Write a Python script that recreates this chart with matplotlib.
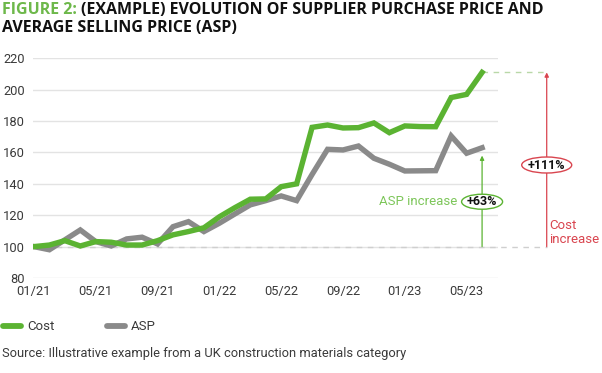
import matplotlib
matplotlib.use("Agg")
import matplotlib.pyplot as plt
from matplotlib.patches import Ellipse
from matplotlib.lines import Line2D

plt.rcParams['font.family'] = ['Roboto', 'DejaVu Sans']

months = list(range(30))
tick_pos = [0, 4, 8, 12, 16, 20, 24, 28]
tick_labels = ["01/21", "05/21", "09/21", "01/22", "05/22", "09/22", "01/23", "05/23"]
cost = [100, 101, 103.8, 100.4, 103.2, 102.8, 101, 101, 103.8, 107.5,
        109.6, 112, 119, 124.8, 130.2, 130.4, 138.2, 140, 176, 177.5,
        175.6, 175.8, 178.8, 172.6, 176.9, 176.5, 176.4, 195, 197, 211]
asp = [100, 98, 104.3, 110.6, 103.2, 100.4, 104.9, 106, 101.7, 112.7,
       115.9, 109.6, 114.9, 120.8, 126.6, 129.3, 132.3, 129.3, 146, 162,
       161.6, 164.1, 156.3, 152.5, 148.2, 148.3, 148.4, 170.5, 159.5, 163]
yticks = [80, 100, 120, 140, 160, 180, 200, 220]

GREEN = "#5BB332"
GRAY = "#8A8A8A"
RED = "#D9454F"
TXT = "#3a3a3a"

W, H = 602, 373
fig = plt.figure(figsize=(W / 100, H / 100), dpi=100)
ax = fig.add_axes([33 / W, 1 - 278 / H, (498 - 33) / W, (278 - 58.3) / H])

ax.set_ylim(80, 220)
ax.set_xlim(-0.06, 30.03)
ax.set_yticks(yticks)
ax.set_xticks(tick_pos)
ax.set_xticklabels(tick_labels)
ax.grid(axis='y', color="#e3e3e3", lw=1)
ax.set_axisbelow(True)
for s in ax.spines.values():
    s.set_visible(False)
ax.tick_params(length=0, labelsize=9.3, colors=TXT)
ax.tick_params(axis='y', pad=6)
ax.tick_params(axis='x', pad=5)

# dashed reference lines
x_end = 30.03 + (546.7 - 498) / 15.45
ax.plot([months[0], x_end], [100, 100], ls=(0, (4, 4)), color="#cfcfcf", lw=1, clip_on=False, zorder=1)
ax.plot([months[-1], x_end], [cost[-1], cost[-1]], ls=(0, (4, 4)), color="#b9d8a8", lw=1, clip_on=False, zorder=1)

ax.plot(months, asp, color=GRAY, lw=3.9, solid_joinstyle='miter', zorder=3)
ax.plot(months, cost, color=GREEN, lw=3.9, solid_joinstyle='miter', zorder=4)

# ASP increase arrow
ax.annotate("", xy=(months[-1], 158), xytext=(months[-1], 100),
            arrowprops=dict(arrowstyle="-|>", color=GREEN, lw=0.9, mutation_scale=6,
                            shrinkA=0, shrinkB=0), zorder=5)
ax.add_patch(Ellipse((months[-1], 128.6), 41 / 15.45, 15 / 1.57, facecolor="white",
                     edgecolor=GREEN, lw=1, zorder=6, clip_on=False))
ax.text(months[-1], 128.6, "+63%", ha='center', va='center', fontsize=9, fontweight='bold',
        color="#111111", zorder=7)
ax.text(months[-1] - 25 / 15.45, 128.6, "ASP increase", ha='right', va='center', fontsize=9.5,
        color="#7DC65A", zorder=7)

# Cost increase arrow
ax.annotate("", xy=(x_end, cost[-1]), xytext=(x_end, 100),
            arrowprops=dict(arrowstyle="-|>", color=RED, lw=0.9, mutation_scale=6,
                            shrinkA=0, shrinkB=0), zorder=5, annotation_clip=False)
ax.add_patch(Ellipse((x_end, 152), 50 / 15.45, 16 / 1.57, facecolor="white",
                     edgecolor=RED, lw=1, zorder=6, clip_on=False))
ax.text(x_end, 152, "+111%", ha='center', va='center', fontsize=9, fontweight='bold',
        color="#111111", zorder=7, clip_on=False)
ax.text(x_end + 2.5 / 15.45, 100.5, "Cost\nincrease", ha='left', va='bottom', fontsize=9.5,
        color=RED, linespacing=1.05, zorder=7, clip_on=False)

# legend
handles = [Line2D([], [], color=GREEN, lw=4.2, solid_capstyle='round'),
           Line2D([], [], color=GRAY, lw=4.2, solid_capstyle='round')]
fig.legend(handles, ["Cost", "ASP"], loc='center left', bbox_to_anchor=(-0.014, 1 - 327 / H),
           ncol=2, frameon=False, handlelength=1.35, handletextpad=0.45, columnspacing=4.0,
           fontsize=9.5, labelcolor=TXT)

fig.text(2 / W, 1 - 354 / H, "Source: Illustrative example from a UK construction materials category",
         ha='left', va='center', fontsize=9.3, color=TXT)

# title
TFONT = ['Open Sans', 'DejaVu Sans']
TSIZE = 11.5
fig.canvas.draw()
r = fig.canvas.get_renderer()
t1 = fig.text(2 / W, 1 - 10 / H, "FIGURE 2:", ha='left', va='center', fontsize=TSIZE,
              fontweight='bold', color="#6DB84A", family=TFONT)
bb = t1.get_window_extent(renderer=r)
fig.text(bb.x1 / W + 4 / W, 1 - 10 / H, "(EXAMPLE) EVOLUTION OF SUPPLIER PURCHASE PRICE AND",
         ha='left', va='center', fontsize=TSIZE, fontweight='bold', color="#111111", family=TFONT)
fig.text(2 / W, 1 - 28 / H, "AVERAGE SELLING PRICE (ASP)", ha='left', va='center', fontsize=TSIZE,
         fontweight='bold', color="#111111", family=TFONT)

fig.savefig("out.png", dpi=100)
